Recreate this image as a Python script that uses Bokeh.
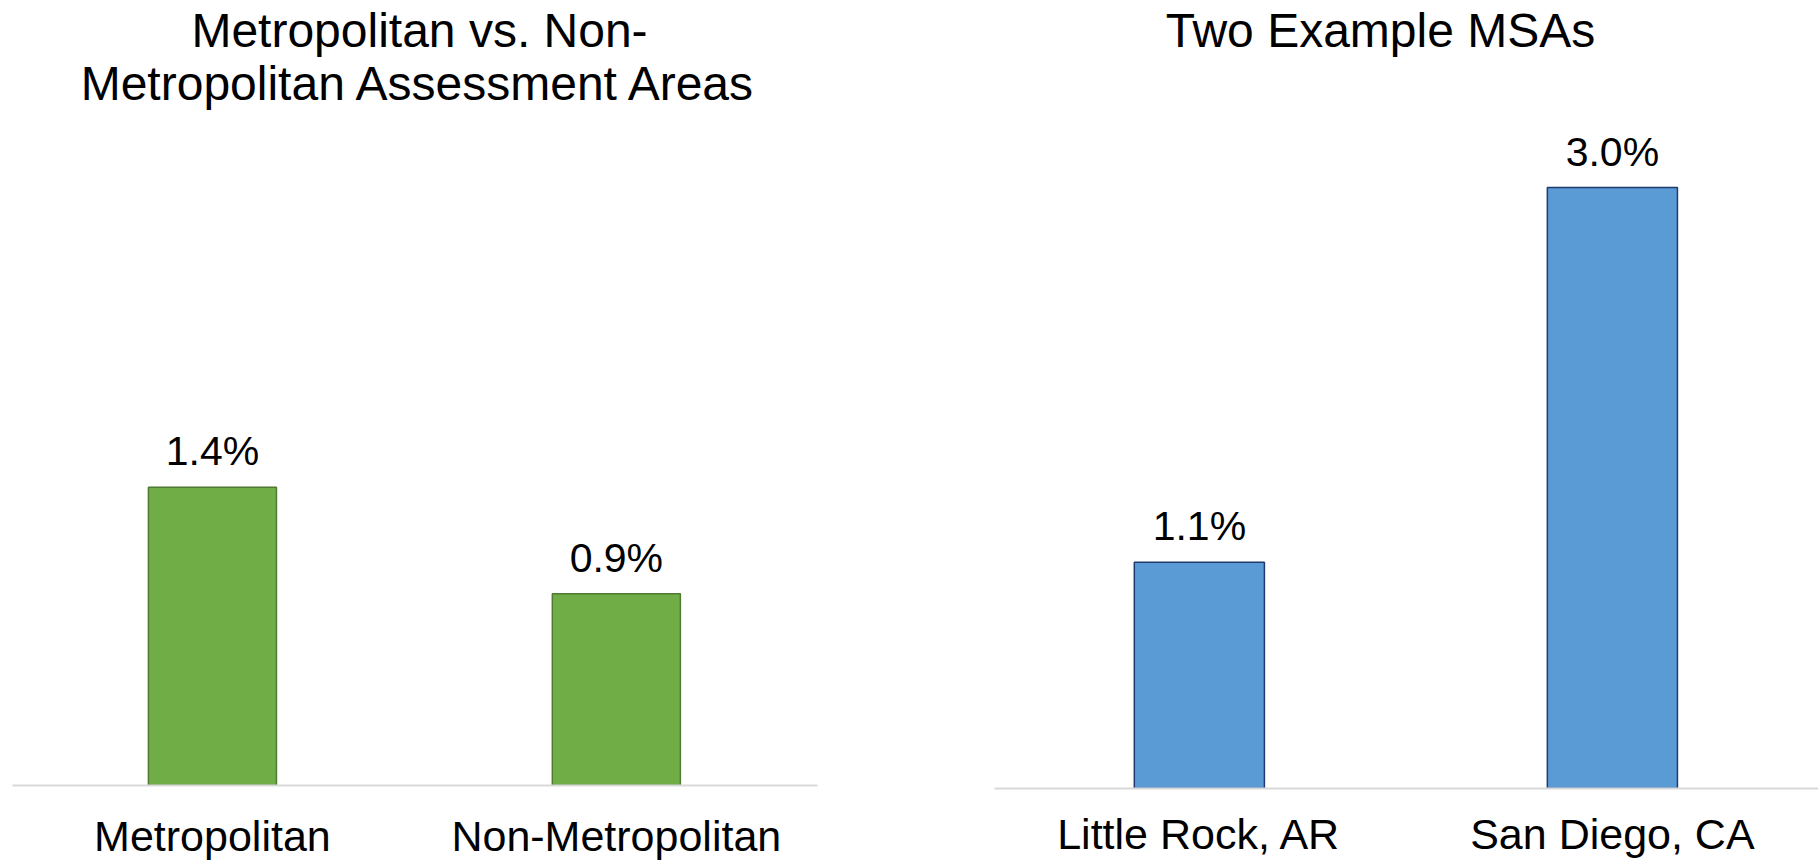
from bokeh.plotting import figure
from bokeh.layouts import row
from bokeh.models import Range1d, FixedTicker, Label
from bokeh.core.properties import value
from bokeh.embed import file_html
from bokeh.resources import INLINE

# ---- data ----
left_title_lines = ["Metropolitan vs. Non-", "Metropolitan Assessment Areas"]
left_categories = ["Metropolitan", "Non-Metropolitan"]
left_values = [1.4, 0.9]

right_title_lines = ["Two Example MSAs"]
right_categories = ["Little Rock, AR", "San Diego, CA"]
right_values = [1.13, 3.0]

FONT = "Liberation Sans"


def make_panel(categories, values, title_lines, *, frame_w, frame_h, mb_left, mb_right,
               x_start, x_end, y_end, bar_width, fill, edge,
               title_cx, title_ys, standoff):
    p = figure(frame_width=frame_w, frame_height=frame_h, output_backend="svg",
               toolbar_location=None,
               x_range=Range1d(x_start, x_end), y_range=Range1d(0, y_end),
               y_axis_location=None, min_border_left=mb_left, min_border_right=mb_right,
               min_border_top=8, min_border_bottom=0)
    p.outline_line_color = None
    p.grid.visible = False
    p.background_fill_color = "white"
    p.border_fill_color = "white"

    idx = list(range(len(categories)))
    p.vbar(x=idx, top=values, width=bar_width, fill_color=fill, line_color=edge,
           line_width=1.5)

    labels = [f"{v:.1f}%" for v in values]
    p.text(x=idx, y=values, text=labels, text_align="center", text_baseline="alphabetic",
           y_offset=-36, text_font=value(FONT), text_font_size="41px", text_color="black")

    ax = p.xaxis[0]
    ax.ticker = FixedTicker(ticks=idx)
    ax.major_label_overrides = {i: c for i, c in zip(idx, categories)}
    ax.axis_line_color = "#d9d9d9"
    ax.axis_line_width = 2
    ax.major_tick_line_color = None
    ax.minor_tick_line_color = None
    ax.major_tick_out = 0
    ax.major_tick_in = 0
    ax.major_label_standoff = standoff
    ax.major_label_text_font = FONT
    ax.major_label_text_font_size = "43px"
    ax.major_label_text_color = "black"

    for line, yb in zip(title_lines, title_ys):
        p.add_layout(Label(x=title_cx, y=yb, x_units="screen", y_units="screen", text=line,
                           text_align="center", text_baseline="alphabetic",
                           text_font=FONT, text_font_size="48px", text_color="black"))
    return p


left = make_panel(left_categories, left_values, left_title_lines,
                  frame_w=805, frame_h=777, mb_left=12, mb_right=173,
                  x_start=-0.495, x_end=1.498, y_end=777 / 213.0, bar_width=0.317,
                  fill="#70AD47", edge="#4F7A32", title_cx=407,
                  title_ys=[755, 702], standoff=26)

right = make_panel(right_categories, right_values, right_title_lines,
                   frame_w=824, frame_h=780, mb_left=4, mb_right=0,
                   x_start=-0.496, x_end=1.499, y_end=780 / 200.3, bar_width=0.315,
                   fill="#5B9BD5", edge="#1F3A6E", title_cx=386,
                   title_ys=[758], standoff=21)

layout = row(left, right)
open("out.html", "w").write(file_html(layout, INLINE))
